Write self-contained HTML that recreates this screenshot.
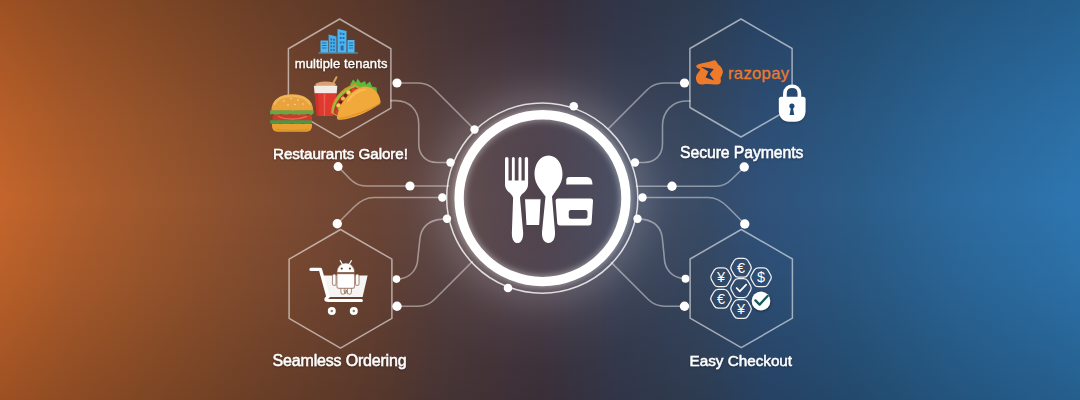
<!DOCTYPE html>
<html>
<head>
<meta charset="utf-8">
<title>Food ordering features</title>
<style>
  html, body { margin: 0; padding: 0; background: #3a3340; }
  body { width: 1080px; height: 400px; overflow: hidden; font-family: "Liberation Sans", sans-serif; }
  #stage { position: relative; width: 1080px; height: 400px; overflow: hidden;
    background:
      linear-gradient(to bottom, rgba(0,0,0,0.20) 0%, rgba(0,0,0,0.06) 30%, rgba(0,0,0,0) 50%, rgba(0,0,0,0.06) 70%, rgba(0,0,0,0.20) 100%),
      linear-gradient(to right,
        #c4652b 0px, #b05e2c 70px, #9c572d 154px, #854e30 254px, #6a4436 380px, #574040 440px,
        #483a46 540px, #3c4258 620px, #384a64 700px, #30517a 760px, #2b5c87 854px, #2c6a9e 960px, #2e76b0 1080px);
  }
  svg { position: absolute; left: 0; top: 0; }
  .lbl { font-family: "Liberation Sans", sans-serif; font-size: 15.2px; fill: #ffffff; stroke: #ffffff; stroke-width: 0.45px; }
</style>
</head>
<body>
<div id="stage">
<svg width="1080" height="400" viewBox="0 0 1080 400">
  <defs>
    <radialGradient id="halo" cx="542.5" cy="197.8" r="170" gradientUnits="userSpaceOnUse">
      <stop offset="0" stop-color="#ffffff" stop-opacity="0.045"/>
      <stop offset="0.44" stop-color="#ffffff" stop-opacity="0.07"/>
      <stop offset="0.56" stop-color="#ffffff" stop-opacity="0.15"/>
      <stop offset="0.60" stop-color="#ffffff" stop-opacity="0.13"/>
      <stop offset="0.66" stop-color="#ffffff" stop-opacity="0.085"/>
      <stop offset="0.725" stop-color="#ffffff" stop-opacity="0.048"/>
      <stop offset="0.80" stop-color="#ffffff" stop-opacity="0.024"/>
      <stop offset="1" stop-color="#ffffff" stop-opacity="0"/>
    </radialGradient>
    <filter id="glow" x="-30%" y="-30%" width="160%" height="160%">
      <feGaussianBlur stdDeviation="3"/>
    </filter>
    <filter id="soft" x="-30%" y="-30%" width="160%" height="160%">
      <feGaussianBlur stdDeviation="1.2"/>
    </filter>
    <filter id="tshadow" x="-10%" y="-30%" width="120%" height="180%">
      <feDropShadow dx="0" dy="1" stdDeviation="1" flood-color="#000" flood-opacity="0.35"/>
    </filter>
  </defs>

  <!-- halo -->
  <circle cx="542.5" cy="197.8" r="171" fill="url(#halo)"/>

  <!-- connector lines -->
  <g id="lines" fill="none" stroke="#ffffff" stroke-opacity="0.43" stroke-width="1.6" stroke-linecap="round" stroke-linejoin="round">
    <!-- left -->
    <path d="M397,83 H418 Q428,83 435,90 L474.5,129.5"/>
    <path d="M391,100.6 H396 C409,100.6 418.75,110 418.75,124 V144 C418.75,155 426,162.5 437,162.5 H450.5"/>
    <path d="M338.1,166.6 L350,179 Q357,186 366,186 H448.6"/>
    <path d="M337.3,223.7 L354,207 Q363.5,197.5 374,197.5 H442"/>
    <path d="M396.4,279.2 C406,279 414.5,274 417.3,263 L420,238 C421.5,228 428,221.5 438,219.6 L447,218.75"/>
    <path d="M397,306.25 H418 Q428,306.25 435,299 L472.2,261.8"/>
    <!-- right -->
    <path d="M684.5,83 H664 Q654,83 647,90 L608.3,128.7"/>
    <path d="M690,101 H686 C673,101 662.5,111 662.5,126 V144 C662.5,155 655,162.5 644,162.5 H635"/>
    <path d="M744.25,167 L732,179 Q725,186.25 716,186.25 H636.4"/>
    <path d="M744.75,224 L728,207.2 Q718.5,197.5 708,197.5 H642.5"/>
    <path d="M685.5,278.75 C676,278.5 667.5,273.5 664.8,262.5 L662.3,238 C661,228 654.5,221.5 645,219.6 L637.5,218.75"/>
    <path d="M684.5,306.25 H665 Q655,306.25 648,299.25 L611.4,262.65"/>
  </g>

  <!-- hexagons -->
  <g id="hexes" fill="none" stroke="#ffffff" stroke-opacity="0.56" stroke-width="1.5" stroke-linejoin="round">
    <polygon points="339.65,19 390.9,48.75 390.9,108.2 339.65,137.9 288.4,108.2 288.4,48.75"/>
    <polygon points="741,19 792.1,48.5 792.1,107.5 741,137 689.9,107.5 689.9,48.5"/>
    <polygon points="340.5,229.5 391.9,259.2 391.9,318.4 340.5,348.1 289.1,318.4 289.1,259.2"/>
    <polygon points="741.25,229.5 792.4,259 792.4,318.2 741.25,347.7 690.1,318.2 690.1,259"/>
  </g>

  <!-- centre ring -->
  <g id="ring">
    <ellipse cx="542.5" cy="198.15" rx="83.4" ry="83.4" fill="none" stroke="#ffffff" stroke-opacity="0.4" stroke-width="12" filter="url(#glow)"/>
    <ellipse cx="542.25" cy="198.1" rx="95.6" ry="95.1" fill="none" stroke="#ffffff" stroke-opacity="0.8" stroke-width="1.5"/>
    <ellipse cx="542.5" cy="198.15" rx="83.4" ry="83.4" fill="none" stroke="#ffffff" stroke-width="9.3"/>
  </g>

  <!-- nodes -->
  <g id="nodes" fill="#ffffff">
    <circle cx="397" cy="83" r="4.6"/>
    <circle cx="474.5" cy="129.5" r="4.2"/>
    <circle cx="450.5" cy="162.5" r="4.2"/>
    <circle cx="410" cy="186" r="4.6"/>
    <circle cx="442.3" cy="197.5" r="4.2"/>
    <circle cx="447" cy="218.75" r="4.2"/>
    <circle cx="338.1" cy="166.6" r="4.5"/>
    <circle cx="337.3" cy="223.7" r="4.7"/>
    <circle cx="396.5" cy="279.1" r="3.8"/>
    <circle cx="397" cy="306.25" r="4.7"/>
    <circle cx="508" cy="288" r="4.3"/>
    <circle cx="573.75" cy="106.25" r="4.3"/>
    <circle cx="684.5" cy="83" r="4.6"/>
    <circle cx="635" cy="162.5" r="4.2"/>
    <circle cx="672" cy="186.25" r="4.7"/>
    <circle cx="744.25" cy="167" r="4.7"/>
    <circle cx="642.5" cy="197.5" r="4.2"/>
    <circle cx="744.75" cy="224" r="4.7"/>
    <circle cx="637.5" cy="218.75" r="4.2"/>
    <circle cx="685.5" cy="278.75" r="3.9"/>
    <circle cx="684.5" cy="306.25" r="4.7"/>
  </g>

  <!-- labels -->
  <g id="labels" filter="url(#tshadow)">
    <text class="lbl" style="font-size:15.2px" x="273" y="158.9" textLength="135" lengthAdjust="spacing">Restaurants Galore!</text>
    <text class="lbl" style="font-size:16px" x="272.6" y="366.3" textLength="134" lengthAdjust="spacing">Seamless Ordering</text>
    <text class="lbl" style="font-size:15.8px" x="680" y="157.8" textLength="123.4" lengthAdjust="spacing">Secure Payments</text>
    <text class="lbl" style="font-size:15.3px" x="689.6" y="365.7" textLength="102.5" lengthAdjust="spacing">Easy Checkout</text>
  </g>

  <!-- centre icon -->
  <g id="centre-icon" fill="#ffffff">
    <!-- fork -->
    <path d="M505,158.6 Q505,157 506.75,157 Q508.5,157 508.5,158.6 V180.6 H511.9 V158.6 Q511.9,157 513.3,157 Q514.75,157 514.75,158.6 V180.6 H518.5 V158.6 Q518.5,157 520,157 Q521.5,157 521.5,158.6 V180.6 H524.75 V158.6 Q524.75,157 526.4,157 Q528.1,157 528.1,158.6 V184 C528.1,192 520.6,193 520,198 L523.1,232 C523.5,239 521,243 517.5,243 C514,243 511.5,239 511.9,232 L513.1,198 C512.5,193 505,192 505,184 Z"/>
    <!-- spoon -->
    <path d="M548.5,155.5 C557,155.5 562.5,164 562.5,174 C562.5,185 555,191 552,196.5 L555,232 C555.4,239 552.5,243 548.5,243 C544.5,243 541.6,239 542,232 L545.5,196.5 C542,191 534.5,185 534.5,174 C534.5,164 540,155.5 548.5,155.5 Z"/>
    <!-- glass -->
    <path d="M524.4,198.75 H541.25 L539.75,225.6 H525.9 Z" stroke="#4b444d" stroke-width="1.2" stroke-linejoin="round"/>
    <!-- container lid -->
    <path d="M566.25,184.4 V180 Q566.25,177 569.5,177 H586.5 Q592.5,177 592.5,184.4 Z"/>
    <!-- container body -->
    <path fill-rule="evenodd" d="M558,198.5 H590.6 Q593.2,198.5 593,201 L591.6,222.8 Q591.4,225.4 588.8,225.4 H560 Q557.4,225.4 557.2,222.8 L555.6,201 Q555.4,198.5 558,198.5 Z M570.75,210 H585.5 Q587.5,210 587.5,212 V216.75 Q587.5,218.75 585.5,218.75 H570.75 Q568.75,218.75 568.75,216.75 V212 Q568.75,210 570.75,210 Z"/>
  </g>

  <!-- HEX 1 : multiple tenants + food -->
  <g id="buildings">
    <rect x="318.5" y="52.5" width="39.5" height="1" fill="#4ab4ee" opacity="0.9"/>
    <rect x="320.5" y="40.5" width="7.5" height="12" fill="#4fb8f0"/>
    <polygon points="328.6,34.5 336.5,36.6 336.5,52.5 328.6,52.5" fill="#45aeea"/>
    <polygon points="337.5,29 346.5,31 346.5,52.5 337.5,52.5" fill="#4ab6f2"/>
    <rect x="347.5" y="40" width="7" height="12.5" fill="#4fb8f0"/>
    <g fill="#235f9e" opacity="0.85">
      <rect x="322" y="42.5" width="4.5" height="1"/><rect x="322" y="45" width="4.5" height="1"/><rect x="322" y="47.5" width="4.5" height="1"/>
      <rect x="330.5" y="38.5" width="1.6" height="1.8"/><rect x="333.2" y="38.9" width="1.6" height="1.8"/>
      <rect x="330.5" y="42" width="1.6" height="1.8"/><rect x="333.2" y="42" width="1.6" height="1.8"/>
      <rect x="330.5" y="45.5" width="1.6" height="1.8"/><rect x="333.2" y="45.5" width="1.6" height="1.8"/>
      <rect x="330.5" y="49" width="1.6" height="1.8"/><rect x="333.2" y="49" width="1.6" height="1.8"/>
      <rect x="339.8" y="32.6" width="1.8" height="2"/><rect x="342.6" y="33" width="1.8" height="2"/>
      <rect x="339.8" y="37" width="1.8" height="2"/><rect x="342.6" y="37" width="1.8" height="2"/>
      <rect x="339.8" y="41.5" width="1.8" height="2"/><rect x="342.6" y="41.5" width="1.8" height="2"/>
      <rect x="340.6" y="45.5" width="3" height="5"/>
      <rect x="349" y="42.5" width="4" height="1"/><rect x="349" y="45" width="4" height="1"/><rect x="349" y="47.5" width="4" height="1"/>
    </g>
  </g>
  <text x="294.7" y="68.3" textLength="92.7" lengthAdjust="spacing" font-family="Liberation Sans, sans-serif" font-size="13" fill="#ffffff" stroke="#ffffff" stroke-width="0.3" filter="url(#tshadow)">multiple tenants</text>

  <g id="drink">
    <path d="M332.5,84.5 L336.4,77.2" stroke="#d9a066" stroke-width="2" stroke-linecap="round" fill="none"/>
    <ellipse cx="325.6" cy="84.6" rx="10.4" ry="3" fill="#dca173"/>
    <polygon points="313.9,85.8 337.3,85.8 336.7,93.6 314.6,93.6" fill="#f1ece8"/>
    <polygon points="314.6,93.4 336.7,93.4 333.4,116 316.8,116" fill="#e03a30"/>
    <polygon points="323.6,93.4 325.4,93.4 325,116 323.9,116" fill="#f0655a" opacity="0.8"/>
    <polygon points="314.6,93.4 318,93.4 319.2,116 316.8,116" fill="#c52d26" opacity="0.7"/>
  </g>

  <g id="taco">
    <!-- lettuce behind -->
    <path d="M350,85 L353,79.5 L356,82.5 L357.5,78.5 L361,83 L365,81 L366,84.5 L370,81.5 L372,86.5 L376.5,87.5 L377,93 L362,92 Z" fill="#5dba3a"/>
    <!-- back shell -->
    <path d="M331,113 C331.5,100 340,88.5 355,83.6 L364,90 L340,118 Z" fill="#d98f2a"/>
    <!-- lettuce rim -->
    <path d="M332,112.5 C333,100.5 341,90 355,85.2 L362,90 L341,117 Z" fill="#8fc442"/>
    <!-- filling -->
    <path d="M333.6,113 C334.5,102 342,92 355.5,87 L362,91 C350,96 343.5,106 342,118 Z" fill="#b8392a"/>
    <circle cx="348.5" cy="92.5" r="2.2" fill="#f2d24a"/><circle cx="343" cy="98.5" r="2" fill="#e8c040"/><circle cx="338.5" cy="105.5" r="2.2" fill="#f2d24a"/>
    <circle cx="353.5" cy="89.8" r="1.8" fill="#e2472f"/><circle cx="345.5" cy="95.5" r="1.5" fill="#4a2a22"/><circle cx="337" cy="112" r="2" fill="#d4402c"/><circle cx="340.6" cy="102" r="1.5" fill="#4a2a22"/><circle cx="339" cy="109" r="1.3" fill="#7cc242"/>
    <!-- front shell -->
    <path d="M337,118 C338,106.5 346.5,92.5 362,86.8 C374,84.5 381,96 380.5,103 C370,112 352,119 341,119.8 C338.3,119.9 337,119.5 337,118 Z" fill="#f2a93b"/>
    <path d="M339,118.3 C349,117.5 368,110.8 380.3,103.6" stroke="#dd8c24" stroke-width="1.2" fill="none" opacity="0.8"/>
    <path d="M348,101 C352,94.5 358,90.5 365,89.5" stroke="#f8c462" stroke-width="2" fill="none" opacity="0.7" stroke-linecap="round"/>
  </g>

  <g id="burger">
    <path d="M271.3,110.8 C271.3,100 280,94.3 292.2,94.3 C304.4,94.3 313.2,100 313.2,110.8 Z" fill="#e9a23c"/>
    <path d="M274.5,104 C277,98.5 284,96 292,96 C300,96 307,98.5 310,104" stroke="#f3bd68" stroke-width="2.4" fill="none" opacity="0.7" stroke-linecap="round"/>
    <g fill="#f8dca0"><circle cx="284" cy="101" r="0.8"/><circle cx="291" cy="98.5" r="0.8"/><circle cx="298" cy="100" r="0.8"/><circle cx="303" cy="104" r="0.8"/><circle cx="288" cy="105" r="0.8"/><circle cx="295" cy="104.5" r="0.8"/></g>
    <path d="M270,110.5 H313.8 L313.6,113.5 L311,115.3 L307.5,113.8 L303.5,115.5 L299,114 L294.5,115.6 L290,114 L285.5,115.6 L281,114 L276.5,115.5 L272.5,114 L270.2,114.5 Z" fill="#63a945"/>
    <rect x="272.6" y="114.6" width="39.4" height="6.8" rx="3" fill="#d3392b"/>
    <path d="M278,116.5 C286,120 298,120 307,116.3" stroke="#f07a5c" stroke-width="1.3" fill="none" opacity="0.8"/>
    <path d="M270,120.2 H312 L311.5,123.5 L308,124.8 L303,123.6 L298,124.8 L292,123.6 L286,124.8 L280,123.6 L275,124.8 L270.4,123.4 Z" fill="#4c9648"/>
    <path d="M272,123.9 H312 V126 Q312,131.7 306.3,131.7 H277.7 Q272,131.7 272,126 Z" fill="#e8a030"/>
    <path d="M275.5,129.4 Q292,131.4 308.5,129.4" stroke="#d18a22" stroke-width="1.2" fill="none" opacity="0.6"/>
  </g>

  <!-- HEX 2 : razopay + lock -->
  <g id="razopay">
    <path transform="translate(0,-0.8)" d="M696.2,66.5 C699,63.5 707,63.8 713.5,61.2 C716,60.6 716.5,63 718.2,65.2 C721.5,67.5 723.3,70.5 722.8,73.5 C722.3,76.2 720.5,77.8 720.6,79.5 C721.2,82 721,84.5 718.5,85 C714,85.8 708,84.2 703.5,85.2 C699.5,86 696.5,84 696,80 C695.5,76 698,73.5 700.5,70.5 C699,69 696,69 696.2,66.5 Z" fill="#ee7a2a"/>
    <path transform="translate(0,-0.8)" d="M700.6,67.6 L713.8,69.8 L709.6,75 L714.2,81.4 L705.6,78.2 L708.4,72.2 Z" fill="#223a5e"/>
    <text x="728" y="78.5" textLength="61" lengthAdjust="spacing" font-family="Liberation Sans, sans-serif" font-size="16.6" fill="#ee7a2a" stroke="#ee7a2a" stroke-width="0.3">razopay</text>
  </g>
  <g id="lock">
    <path d="M778.8,99.2 Q778.8,96.7 781.3,96.7 H803.1 Q805.6,96.7 805.6,99.2 V110.8 C805.6,118 800.5,121.8 795.5,121.8 H788.9 C783.9,121.8 778.8,118 778.8,110.8 Z" fill="#000" opacity="0.25" filter="url(#soft)" transform="translate(0,1)"/>
    <path d="M784.9,97 V93.5 C784.9,83.8 799.4,83.8 799.4,93.5 V97" fill="#284a70" stroke="#ffffff" stroke-width="3.7"/>
    <path d="M778.8,99.2 Q778.8,96.7 781.3,96.7 H803.1 Q805.6,96.7 805.6,99.2 V110.8 C805.6,118 800.5,121.8 795.5,121.8 H788.9 C783.9,121.8 778.8,118 778.8,110.8 Z" fill="#ffffff"/>
    <circle cx="791.9" cy="106.1" r="2.6" fill="#1e4a73"/>
    <path d="M791,107 H792.8 L794.2,114.9 H789.6 Z" fill="#1e4a73"/>
  </g>

  <!-- HEX 3 : cart + android -->
  <g id="cart">
    <!-- handle + left rail -->
    <path d="M311,269.4 H320.4 L328,296.8" fill="none" stroke="#ffffff" stroke-width="3.4" stroke-linecap="round" stroke-linejoin="round"/>
    <!-- basket -->
    <path d="M321.8,275.4 H367.6 L362.6,297 H327.8 Z" fill="#ffffff" fill-opacity="0.95"/>
    <!-- under frame -->
    <path d="M328,296.8 Q323.4,300.5 328.6,300.5 H361.4" fill="none" stroke="#ffffff" stroke-width="3.1" stroke-linecap="round" stroke-linejoin="round"/>
    <!-- wheels -->
    <circle cx="331.8" cy="311" r="4" fill="#ffffff"/>
    <circle cx="353.8" cy="311" r="4" fill="#ffffff"/>
    <circle cx="331.8" cy="311" r="1.2" fill="#7a4a34" opacity="0.75"/>
    <circle cx="353.8" cy="311" r="1.2" fill="#7a4a34" opacity="0.75"/>
  </g>
  <g id="android">
    <g stroke="#7d4d33" stroke-opacity="0.6" stroke-width="1.1" fill="#ffffff">
      <!-- arms -->
      <rect x="332.5" y="274" width="3.5" height="11.4" rx="1.75"/>
      <rect x="355.5" y="274" width="3.5" height="11.4" rx="1.75"/>
      <!-- legs -->
      <rect x="340.9" y="286" width="4" height="8.2" rx="1.9"/>
      <rect x="347.4" y="286" width="4" height="8.2" rx="1.9"/>
      <!-- body -->
      <path d="M336.9,273.8 H354.6 V286 Q354.6,288.4 352.2,288.4 H339.3 Q336.9,288.4 336.9,286 Z"/>
      <!-- head -->
      <path d="M336.9,272.5 C336.9,259.8 354.6,259.8 354.6,272.5 Z"/>
    </g>
    <path d="M340.2,260.6 L342.2,264 M351.4,260.6 L349.4,264" stroke="#ffffff" stroke-width="1.1" stroke-linecap="round" fill="none"/>
    <circle cx="341.7" cy="268.6" r="1.1" fill="#6b4030"/>
    <circle cx="349.9" cy="268.6" r="1.1" fill="#6b4030"/>
    <path d="M343.6,289.5 L345.2,293.8 L346.4,290 L347.2,293.8" stroke="#7d4d33" stroke-opacity="0.55" stroke-width="1" fill="none"/>
  </g>

  <!-- HEX 4 : currency honeycomb -->
  <g id="honey" fill="none" stroke="#ffffff" stroke-opacity="0.92" stroke-width="1.25" stroke-linejoin="round">
    <path d="M750.6,265.4 Q751.9,267.7 750.6,270.0 L747.8,274.9 Q746.5,277.1 743.9,277.1 L738.1,277.1 Q735.5,277.1 734.2,274.9 L731.4,270.0 Q730.1,267.7 731.4,265.4 L734.2,260.5 Q735.5,258.3 738.1,258.3 L743.9,258.3 Q746.5,258.3 747.8,260.5 Z"/>
    <path d="M730.6,275.0 Q731.9,277.3 730.6,279.6 L727.8,284.5 Q726.5,286.7 723.9,286.7 L718.1,286.7 Q715.5,286.7 714.2,284.5 L711.4,279.6 Q710.1,277.3 711.4,275.0 L714.2,270.1 Q715.5,267.9 718.1,267.9 L723.9,267.9 Q726.5,267.9 727.8,270.1 Z"/>
    <path d="M770.6,275.0 Q771.9,277.3 770.6,279.6 L767.8,284.5 Q766.5,286.7 763.9,286.7 L758.1,286.7 Q755.5,286.7 754.2,284.5 L751.4,279.6 Q750.1,277.3 751.4,275.0 L754.2,270.1 Q755.5,267.9 758.1,267.9 L763.9,267.9 Q766.5,267.9 767.8,270.1 Z"/>
    <path d="M750.6,285.8 Q751.9,288.1 750.6,290.4 L747.8,295.3 Q746.5,297.5 743.9,297.5 L738.1,297.5 Q735.5,297.5 734.2,295.3 L731.4,290.4 Q730.1,288.1 731.4,285.8 L734.2,280.9 Q735.5,278.7 738.1,278.7 L743.9,278.7 Q746.5,278.7 747.8,280.9 Z"/>
    <path d="M730.6,296.4 Q731.9,298.7 730.6,301.0 L727.8,305.9 Q726.5,308.1 723.9,308.1 L718.1,308.1 Q715.5,308.1 714.2,305.9 L711.4,301.0 Q710.1,298.7 711.4,296.4 L714.2,291.5 Q715.5,289.3 718.1,289.3 L723.9,289.3 Q726.5,289.3 727.8,291.5 Z"/>
    <path d="M750.6,306.6 Q751.9,308.9 750.6,311.2 L747.8,316.1 Q746.5,318.3 743.9,318.3 L738.1,318.3 Q735.5,318.3 734.2,316.1 L731.4,311.2 Q730.1,308.9 731.4,306.6 L734.2,301.7 Q735.5,299.5 738.1,299.5 L743.9,299.5 Q746.5,299.5 747.8,301.7 Z"/>
  </g>
  <g id="honey-glyphs" font-family="Liberation Sans, sans-serif" fill="#ffffff" text-anchor="middle">
    <text x="741" y="272.8" font-size="14.5">€</text>
    <text x="721" y="282.2" font-size="14.5">¥</text>
    <text x="761" y="282.2" font-size="14.5">$</text>
    <text x="721" y="303.8" font-size="14.5">€</text>
    <text x="741" y="314" font-size="14.5">¥</text>
    <path d="M736.6,288 L739.8,291.4 L746.2,284.6" fill="none" stroke="#ffffff" stroke-width="1.7" stroke-linecap="round" stroke-linejoin="round"/>
  </g>
  <g id="check-badge">
    <circle cx="761.3" cy="301.8" r="9.8" fill="#000" opacity="0.35" filter="url(#soft)"/>
    <circle cx="761" cy="301" r="9.4" fill="#ffffff"/>
    <path d="M755.4,300.4 L759.6,304.6 L767.6,296" fill="none" stroke="#185a5c" stroke-width="2.3" stroke-linecap="round" stroke-linejoin="round"/>
  </g>

  <!-- ICONS-PLACEHOLDER -->
</svg>
</div>
</body>
</html>
